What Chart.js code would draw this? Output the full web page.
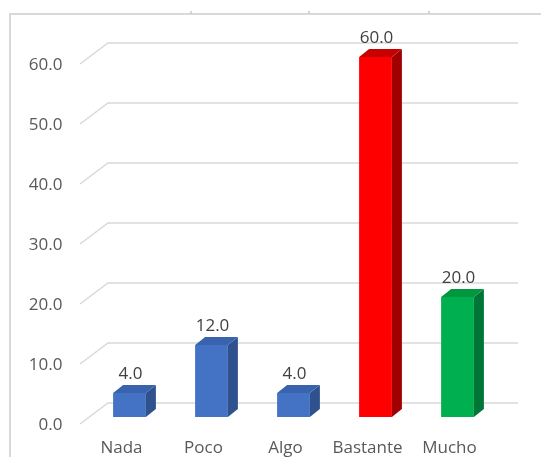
<!DOCTYPE html>
<html>
<head>
<meta charset="utf-8">
<script src="https://cdn.jsdelivr.net/npm/chart.js@4"></script>
<style>
  html, body { margin: 0; padding: 0; background: #fff; }
  #wrap { width: 541px; height: 457px; }
</style>
</head>
<body>
<div id="wrap"><canvas id="levelChart" width="541" height="457"></canvas></div>
<script>
// Answers per level
const categories = ['Nada', 'Poco', 'Algo', 'Bastante', 'Mucho'];
const percentages = [4.0, 12.0, 4.0, 60.0, 20.0];
const yTicks = [0, 10, 20, 30, 40, 50, 60];

// Front / side / top shades for each bar
const frontColors = ['#4472C4', '#4472C4', '#4472C4', '#FF0000', '#00B050'];
const sideColors = ['#2F528F', '#2F528F', '#2F528F', '#A00000', '#007636'];
const topColors = ['#3A63AE', '#3A63AE', '#3A63AE', '#C80000', '#00973F'];

const DEPTH_X = 10;   // bar depth, horizontal
const DEPTH_Y = -8;   // bar depth, vertical
const FONT = '"Open Sans", "Noto Sans", sans-serif';

// Sheet border around the chart
const framePlugin = {
  id: 'frame',
  beforeDraw(chart) {
    const ctx = chart.ctx;
    ctx.save();
    ctx.strokeStyle = '#d9d9d9';
    ctx.lineWidth = 2;
    ctx.beginPath();
    ctx.moveTo(10, 457);
    ctx.lineTo(10, 14);
    ctx.lineTo(541, 14);
    ctx.stroke();
    ctx.strokeStyle = '#c8c8c8';
    ctx.lineWidth = 1.5;
    [191, 309, 429].forEach(x => {
      ctx.beginPath();
      ctx.moveTo(x, 11);
      ctx.lineTo(x, 14);
      ctx.stroke();
    });
    ctx.restore();
  }
};

// Back wall gridlines with the floor-side diagonal
const wallGridPlugin = {
  id: 'wallGrid',
  beforeDatasetsDraw(chart) {
    const { ctx, chartArea, scales } = chart;
    const y = scales.y;
    ctx.save();
    ctx.strokeStyle = '#d9d9d9';
    ctx.lineWidth = 1.5;
    yTicks.forEach(v => {
      const py = y.getPixelForValue(v);
      ctx.beginPath();
      ctx.moveTo(chartArea.left - 8.5, py + 7);
      ctx.lineTo(chartArea.left + 19.5, py - 14);
      ctx.lineTo(chartArea.right + 19.5, py - 14);
      ctx.stroke();
    });
    ctx.restore();
  }
};

// Side and top faces of each bar, plus the value above it
const bar3dPlugin = {
  id: 'bar3d',
  afterDatasetsDraw(chart) {
    const ctx = chart.ctx;
    const meta = chart.getDatasetMeta(0);
    ctx.save();
    meta.data.forEach((bar, i) => {
      const left = bar.x - bar.width / 2;
      const right = bar.x + bar.width / 2;
      const top = bar.y;
      const base = bar.base;

      ctx.fillStyle = sideColors[i];
      ctx.beginPath();
      ctx.moveTo(right, top);
      ctx.lineTo(right + DEPTH_X, top + DEPTH_Y);
      ctx.lineTo(right + DEPTH_X, base + DEPTH_Y);
      ctx.lineTo(right, base);
      ctx.closePath();
      ctx.fill();

      ctx.fillStyle = topColors[i];
      ctx.beginPath();
      ctx.moveTo(left, top);
      ctx.lineTo(left + DEPTH_X, top + DEPTH_Y);
      ctx.lineTo(right + DEPTH_X, top + DEPTH_Y);
      ctx.lineTo(right, top);
      ctx.closePath();
      ctx.fill();

      ctx.fillStyle = '#404040';
      ctx.font = '17px ' + FONT;
      ctx.textAlign = 'center';
      ctx.textBaseline = 'middle';
      ctx.fillText(percentages[i].toFixed(1), bar.x + 1, top - 19);
    });
    ctx.restore();
  }
};

new Chart(document.getElementById('levelChart'), {
  type: 'bar',
  data: {
    labels: categories,
    datasets: [{
      data: percentages,
      backgroundColor: frontColors,
      borderWidth: 0,
      barPercentage: 0.8,
      categoryPercentage: 0.5
    }]
  },
  options: {
    responsive: false,
    animation: false,
    layout: { padding: { top: 57, right: 42.5, bottom: 0, left: 0 } },
    plugins: { legend: { display: false }, tooltip: { enabled: false } },
    scales: {
      x: {
        grid: { display: false },
        border: { display: false },
        afterFit(scale) { scale.height = 40; },
        ticks: {
          color: '#595959',
          font: { family: FONT, size: 17 },
          padding: 13,
          labelOffset: -8,
          maxRotation: 0
        }
      },
      y: {
        min: 0,
        max: 60,
        grid: { display: false },
        border: { display: false },
        afterFit(scale) { scale.width = 88.5; },
        afterBuildTicks(scale) { scale.ticks = yTicks.map(v => ({ value: v })); },
        ticks: {
          color: '#595959',
          font: { family: FONT, size: 17 },
          padding: 18,
          labelOffset: 8,
          callback: v => v.toFixed(1)
        }
      }
    }
  },
  plugins: [framePlugin, wallGridPlugin, bar3dPlugin]
});
</script>
</body>
</html>
